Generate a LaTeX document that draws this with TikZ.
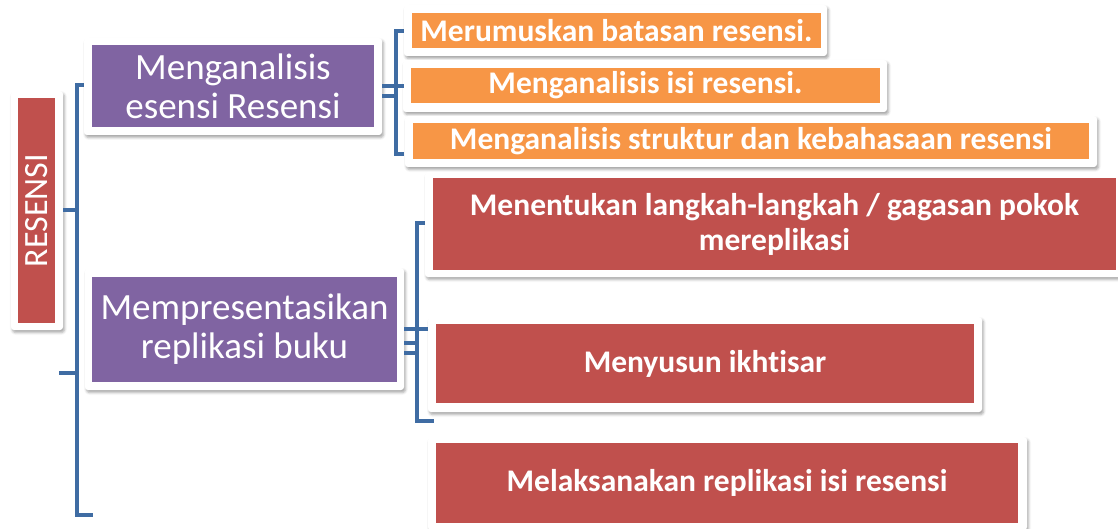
\documentclass[tikz,border=0pt]{standalone}
\usepackage{fontspec}
\setmainfont[Ligatures=NoCommon]{Carlito}
\usetikzlibrary{shadows.blur}
\definecolor{cpurple}{HTML}{8064A2}
\definecolor{corange}{HTML}{F79646}
\definecolor{cred}{HTML}{C0504D}
\definecolor{cblue}{HTML}{3F6CA3}
\tikzset{
  frame/.style={fill=white, rounded corners=3pt, inner sep=0pt,
    blur shadow={shadow xshift=1.5pt, shadow yshift=-2.5pt, shadow blur radius=2.5pt, shadow opacity=35}},
  inbox/.style={inner sep=0pt, text=white, align=center},
  purplebox/.style={inbox, fill=cpurple, font=\fontsize{37}{39}\selectfont},
  orangebox/.style={inbox, fill=corange, font=\fontsize{31.5}{35}\selectfont\bfseries},
  redbox/.style={inbox, fill=cred, font=\fontsize{31.5}{35}\selectfont\bfseries},
  bline/.style={draw=cblue, line width=4pt},
}
\begin{document}
\begin{tikzpicture}[x=1pt,y=-1pt]
\useasboundingbox (0,0) rectangle (1118,529);
% bracket coordinates
\coordinate (bAt) at (89,85);
\coordinate (bAb) at (93,515);
\coordinate (tA) at (59,373);
\coordinate (bBt) at (404,31);
\coordinate (bBb) at (404,154);
\coordinate (bCt) at (427,223);
\coordinate (bCb) at (434,421);
% frame nodes (positions)
\coordinate (cres) at (37,210.5);
\coordinate (cp1) at (233,86.5);
\coordinate (cp2) at (244.5,329);
\coordinate (co1) at (615.5,30.5);
\coordinate (co2) at (645,86);
\coordinate (co3) at (751,141.5);
\coordinate (cr1) at (774.5,224.5);
\coordinate (cr2) at (705,364.5);
\coordinate (cr3) at (727.5,483.5);
% connectors
\draw[bline] (bAt) -- ++(-12,0) |- (bAb);
\draw[bline] (tA) -- ++(18,0);
\draw[bline] (bBt) -- ++(-8,0) |- (bBb);
\draw[bline] (bCt) -- ++(-10,0) |- (bCb);
% boxes
\node[frame, minimum width=52pt, minimum height=239pt] (res) at (cres) {};
\node[inbox, fill=cred, minimum width=37pt, minimum height=225pt] (resi) at (36.5,210.5) {};
\node[text=white, rotate=90, font=\fontsize{34}{36}\selectfont] (rest) at (resi.center) {RESENSI};

\node[frame, minimum width=298pt, minimum height=97pt] (p1f) at (cp1) {};
\node[purplebox, minimum width=282pt, minimum height=82pt] (p1) at (233,86) {Menganalisis\\esensi Resensi};

\node[frame, minimum width=319pt, minimum height=122pt] (p2f) at (cp2) {};
\node[purplebox, minimum width=305pt, minimum height=105pt] (p2) at (244.5,329.5) {Mempresentasikan\\replikasi buku};

\node[frame, minimum width=423pt, minimum height=51pt] (o1f) at (co1) {};
\node[orangebox, minimum width=409pt, minimum height=35pt] (o1) at (616.5,30.5) {Merumuskan batasan resensi.};

\node[frame, minimum width=484pt, minimum height=52pt] (o2f) at (co2) {};
\node[orangebox, minimum width=469pt, minimum height=35pt] (o2) at (645.5,85.5) {Menganalisis isi resensi.};

\node[frame, minimum width=692pt, minimum height=51pt] (o3f) at (co3) {};
\node[orangebox, minimum width=676pt, minimum height=36pt] (o3) at (751,141) {Menganalisis struktur dan kebahasaan resensi};

\node[frame, minimum width=699pt, minimum height=105pt] (r1f) at (cr1) {};
\node[redbox, minimum width=683pt, minimum height=92pt] (r1) at (774.5,224) {Menentukan langkah-langkah / gagasan pokok\\mereplikasi};

\node[frame, minimum width=554pt, minimum height=95pt] (r2f) at (cr2) {};
\node[redbox, minimum width=538pt, minimum height=79pt] (r2) at (705,363.5) {Menyusun ikhtisar};

\node[frame, minimum width=599pt, minimum height=93pt] (r3f) at (cr3) {};
\node[redbox, minimum width=582pt, minimum height=80pt] (r3) at (727,483) {Melaksanakan replikasi isi resensi};

% short connectors from nodes
\draw[bline] (res.east) -- ++(14,0);
\draw[bline] (p1f.east) -- ++(22,0);
\draw[bline] ([yshift=-10pt]p1f.east) -- ++(14,0);
\draw[bline] (p2f.east) -- ++(24,0);
\draw[bline] ([yshift=-14pt]p2f.east) -- ++(13,0);
\draw[bline] ([yshift=-24pt]p2f.east) -- ++(13,0);
\end{tikzpicture}
\end{document}
